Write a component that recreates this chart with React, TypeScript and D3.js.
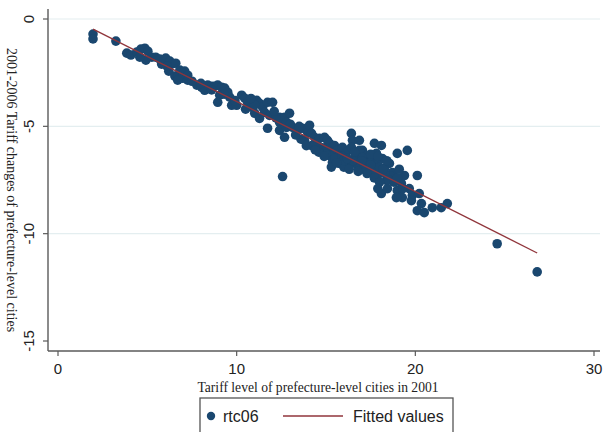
import React from "react";
import * as d3 from "d3";

// Scatter data: tariff level 2001 (x) vs tariff change 2001-2006 (y)
const tariff2001: number[] = [
  1.96, 1.96, 3.24, 3.85, 4.08, 4.41, 4.64, 4.86, 5.03, 4.92, 4.58, 5.25, 5.47, 5.70, 6.03, 6.26, 6.37, 6.59, 6.20, 6.54,
  6.70, 6.98, 7.26, 6.82, 6.70, 7.09,
  6.98, 7.26, 7.77, 8.04, 8.21, 8.38, 8.60, 8.77, 8.94, 9.16, 9.33, 9.50, 9.61, 9.05, 8.94, 9.72, 10.0, 10.28, 10.45, 10.61,
  10.84, 11.12, 11.28, 11.45, 11.73, 12.01, 11.56, 11.84, 11.01, 11.28, 11.73, 12.40, 12.68, 12.40, 12.79,
  12.40, 12.57, 12.96, 12.79, 12.68, 13.13, 13.41, 13.69, 13.97, 14.08, 14.19, 13.80, 14.36, 14.47, 14.64, 14.92, 15.08,
  15.20, 15.47, 15.36, 15.64, 15.03, 15.20, 15.75, 15.92, 16.15, 16.42, 16.48, 16.42, 16.70, 16.87, 16.59, 17.04, 17.26,
  17.43, 17.04, 17.71, 17.82, 17.54, 17.88, 17.26, 16.76, 12.57, 15.36, 15.75, 16.15,
  16.87, 16.87, 17.04, 18.10, 17.26, 17.60, 18.16, 18.55, 18.27, 18.72, 18.38, 18.10, 18.44, 18.99, 19.22, 19.39, 18.99,
  19.55, 19.66, 19.83, 20.11, 20.22, 20.34, 20.11, 20.50, 20.95, 21.45, 21.79, 19.78, 19.27, 18.94, 17.99, 17.60,
  24.58, 26.82,
  14.8, 15.0, 15.5, 15.9, 16.3, 16.6, 16.9, 17.1, 17.5, 17.8, 16.0, 15.3, 14.6, 14.2, 13.6, 13.3, 16.3, 17.3, 18.0, 18.6,
  18.3, 17.7, 16.8,
  5.8, 6.1, 7.5, 8.0, 8.6, 9.9, 10.5, 11.0, 12.2, 13.0, 13.5,
  16.0, 16.5, 17.0, 17.5, 18.2, 18.5, 18.8, 19.0, 18.0, 17.9, 19.3, 15.6, 14.9, 16.2, 17.9, 18.4, 19.1, 12.1, 10.8, 9.3,
  13.9, 14.4,
];
const rtc06: number[] = [
  -0.70, -0.93, -1.03, -1.59, -1.68, -1.54, -1.40, -1.36, -1.50, -1.92, -1.78, -1.78, -1.78, -1.87, -1.82, -1.96, -2.10,
  -2.06, -2.43, -2.66, -2.66, -2.76, -2.85, -2.38, -2.85, -2.43,
  -2.52, -2.62, -3.08, -3.18, -3.32, -3.08, -3.13, -3.13, -3.08, -3.18, -3.22, -3.41, -3.64, -3.55, -3.88, -4.02, -4.02,
  -3.55, -3.69, -3.88, -4.11, -3.79, -3.93, -4.11, -3.88, -3.88, -4.35, -4.49, -4.39, -4.63, -5.09, -4.81, -4.58, -5.19,
  -5.05,
  -4.58, -4.63, -4.39, -4.81, -5.51, -5.05, -5.19, -5.09, -5.28, -4.95, -5.33, -5.65, -5.51, -5.75, -5.56, -5.51, -5.65,
  -5.79, -5.89, -6.21, -6.12, -6.03, -6.36, -6.36, -5.98, -6.21, -5.33, -5.65, -5.98, -6.21, -6.45, -6.50, -6.12, -6.36,
  -6.59, -6.68, -5.79, -6.26, -6.96, -6.92, -6.92, -6.82, -7.34, -6.68, -6.73, -6.59,
  -5.65, -6.12, -6.45, -5.89, -6.73, -6.50, -6.50, -6.73, -6.96, -7.15, -7.52, -8.13, -7.90, -7.99, -7.66, -7.29, -6.26,
  -6.12, -7.90, -8.22, -7.29, -8.13, -8.60, -8.93, -9.02, -8.79, -8.79, -8.60, -8.46, -8.32, -8.32, -7.20, -7.06,
  -10.47, -11.78,
  -6.0, -6.3, -6.5, -6.4, -6.8, -6.2, -6.9, -7.0, -6.3, -6.7, -6.9, -6.9, -6.2, -5.9, -5.6, -5.4, -7.0, -7.2, -6.9, -7.3,
  -7.2, -7.4, -7.1,
  -2.1, -2.2, -2.9, -3.0, -3.3, -3.8, -4.2, -4.0, -4.6, -4.9, -5.0,
  -6.6, -6.6, -6.6, -6.8, -7.0, -7.5, -7.6, -7.4, -7.6, -7.9, -7.9, -6.7, -6.4, -6.5, -6.4, -6.6, -7.0, -4.3, -3.7, -3.5,
  -5.9, -6.1,
];

// Fitted values (linear fit) endpoints
const fitX: number[] = [1.96, 26.82];
const fitY: number[] = [-0.47, -10.9];

const xTicks: number[] = [0, 10, 20, 30];
const yTicks: number[] = [0, -5, -10, -15];
const yGrid: number[] = [0, -5, -10];

const xTitle = "Tariff level of prefecture-level cities in 2001";
const yTitle = "2001-2006 Tariff changes of prefecture-level cities";
const legendLabels = ["rtc06", "Fitted values"];

const W = 603;
const H = 432;

export default function App() {
  const x = d3.scaleLinear().domain([0, 30]).range([58, 594]);
  const y = d3.scaleLinear().domain([0, -15]).range([19, 341]);
  const axisColor = "#5a5a5a";
  const marker = "#1a476f";
  const fitColor = "#90353b";
  const line = d3
    .line<number>()
    .x((_, i) => x(fitX[i]))
    .y((d) => y(d));
  const points = tariff2001.map((v, i) => ({ x: v, y: rtc06[i] }));
  const left = 48;
  const bottom = 351;
  return (
    <svg
      width={W}
      height={H}
      style={{ position: "absolute", left: 0, top: 0, background: "#fff" }}
    >
      {yGrid.map((t) => (
        <line key={"g" + t} x1={left + 1} x2={600} y1={y(t)} y2={y(t)} stroke="#e4eef0" strokeWidth={1.2} />
      ))}
      {points.map((p, i) => (
        <circle key={i} cx={x(p.x)} cy={y(p.y)} r={4.8} fill={marker} />
      ))}
      <path d={line(fitY) || ""} fill="none" stroke={fitColor} strokeWidth={1.3} />
      {/* axes */}
      <line x1={left} x2={left} y1={9} y2={bottom} stroke={axisColor} strokeWidth={1.4} />
      <line x1={left} x2={600} y1={bottom} y2={bottom} stroke={axisColor} strokeWidth={1.4} />
      {yTicks.map((t) => (
        <g key={"y" + t}>
          <line x1={left - 5} x2={left} y1={y(t)} y2={y(t)} stroke={axisColor} strokeWidth={1.2} />
          <text
            transform={`translate(34,${y(t)}) rotate(-90)`}
            textAnchor="middle"
            fontFamily="Liberation Sans, Arial, sans-serif"
            fontSize={15}
            fill="#222"
          >
            {t}
          </text>
        </g>
      ))}
      {xTicks.map((t) => (
        <g key={"x" + t}>
          <line x1={x(t)} x2={x(t)} y1={bottom} y2={bottom + 5} stroke={axisColor} strokeWidth={1.2} />
          <text
            x={x(t)}
            y={374}
            textAnchor="middle"
            fontFamily="Liberation Sans, Arial, sans-serif"
            fontSize={15}
            fill="#222"
          >
            {t}
          </text>
        </g>
      ))}
      <text
        x={318}
        y={392}
        textAnchor="middle"
        fontFamily="Liberation Serif, Times New Roman, serif"
        fontSize={13.6}
        fill="#222"
      >
        {xTitle}
      </text>
      <text
        transform={`translate(7,190) rotate(90)`}
        textAnchor="middle"
        fontFamily="Liberation Serif, Times New Roman, serif"
        fontSize={14}
        fill="#222"
      >
        {yTitle}
      </text>
      {/* legend */}
      <rect x={200} y={398} width={253} height={40} fill="#fff" stroke="#555" strokeWidth={1.3} />
      <circle cx={211} cy={416} r={4.2} fill={marker} />
      <text x={223} y={422} fontFamily="Liberation Sans, Arial, sans-serif" fontSize={16} fill="#222">
        {legendLabels[0]}
      </text>
      <line x1={283} x2={343} y1={416} y2={416} stroke={fitColor} strokeWidth={1.3} />
      <text x={353} y={422} fontFamily="Liberation Sans, Arial, sans-serif" fontSize={16} fill="#222">
        {legendLabels[1]}
      </text>
    </svg>
  );
}
